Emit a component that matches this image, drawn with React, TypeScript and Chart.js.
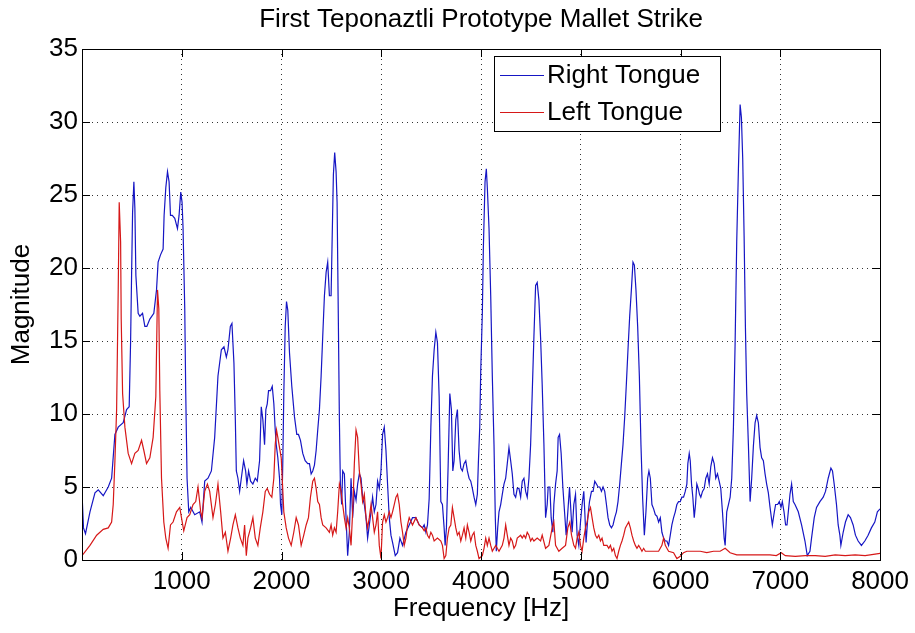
import { useEffect, useRef } from 'react';
import { Chart, registerables } from 'chart.js';

Chart.register(...registerables);

// Spectrum of the right tongue (Hz, magnitude)
const FREQ_RIGHT = [
  0, 15, 35, 80, 130, 163, 213, 263, 297, 330, 363, 413, 447, 473, 487, 497, 507, 520, 530, 540,
  563, 580, 607, 630, 650, 680, 720, 747, 763, 787, 813, 823, 840, 857, 873, 887, 905, 930, 957, 973,
  990, 1003, 1013, 1030, 1040, 1053, 1070, 1090, 1130, 1180, 1203, 1230, 1263, 1297, 1330, 1363, 1397, 1423, 1447, 1463,
  1487, 1503, 1523, 1537, 1547, 1563, 1580, 1597, 1620, 1640, 1653, 1670, 1690, 1713, 1737, 1757, 1780, 1797, 1813, 1830,
  1843, 1857, 1870, 1890, 1907, 1923, 1937, 1947, 1963, 1980, 1990, 2003, 2013, 2023, 2037, 2050, 2063, 2080, 2103, 2130,
  2153, 2170, 2190, 2213, 2237, 2263, 2280, 2297, 2313, 2330, 2347, 2363, 2380, 2397, 2413, 2430, 2447, 2463, 2480, 2497,
  2507, 2520, 2533, 2547, 2557, 2567, 2580, 2590, 2603, 2613, 2630, 2647, 2663, 2680, 2697, 2713, 2730, 2747, 2763, 2780,
  2797, 2813, 2830, 2847, 2863, 2880, 2897, 2913, 2930, 2947, 2963, 2980, 2997, 3013, 3030, 3047, 3063, 3080, 3097, 3113,
  3140, 3163, 3187, 3213, 3247, 3280, 3313, 3347, 3380, 3413, 3430, 3447, 3463, 3480, 3497, 3513, 3530, 3547, 3563, 3580,
  3597, 3613, 3630, 3640, 3653, 3670, 3687, 3703, 3717, 3730, 3747, 3763, 3780, 3797, 3813, 3830, 3847, 3863, 3880, 3897,
  3913, 3930, 3947, 3963, 3973, 3987, 3997, 4013, 4023, 4040, 4053, 4063, 4080, 4097, 4113, 4130, 4143, 4153, 4167, 4180,
  4197, 4213, 4230, 4247, 4263, 4280, 4297, 4313, 4330, 4347, 4363, 4380, 4397, 4413, 4430, 4447, 4463, 4480, 4497, 4513,
  4530, 4547, 4563, 4580, 4597, 4613, 4630, 4647, 4663, 4673, 4690, 4703, 4720, 4730, 4747, 4763, 4773, 4787, 4803, 4820,
  4837, 4853, 4870, 4887, 4897, 4913, 4930, 4947, 4963, 4980, 4997, 5013, 5030, 5040, 5053, 5070, 5087, 5107, 5123, 5140,
  5157, 5173, 5190, 5207, 5223, 5240, 5257, 5273, 5290, 5307, 5323, 5340, 5357, 5373, 5390, 5407, 5423, 5440, 5457, 5473,
  5490, 5507, 5523, 5537, 5553, 5570, 5587, 5603, 5620, 5637, 5653, 5670, 5683, 5697, 5713, 5730, 5747, 5763, 5780, 5797,
  5813, 5830, 5847, 5863, 5880, 5897, 5913, 5930, 5947, 5963, 5980, 5997, 6013, 6030, 6047, 6063, 6073, 6087, 6097, 6110,
  6123, 6137, 6150, 6163, 6177, 6190, 6203, 6220, 6237, 6253, 6270, 6287, 6303, 6320, 6337, 6353, 6370, 6387, 6403, 6420,
  6437, 6447, 6463, 6480, 6497, 6513, 6530, 6547, 6563, 6580, 6597, 6610, 6623, 6637, 6650, 6663, 6680, 6697, 6713, 6730,
  6747, 6763, 6780, 6797, 6813, 6830, 6847, 6863, 6880, 6897, 6920, 6940, 6953, 6973, 6990, 7007, 7020, 7037, 7053, 7067,
  7080, 7097, 7113, 7130, 7147, 7180, 7213, 7247, 7270, 7297, 7313, 7340, 7363, 7397, 7430, 7453, 7480, 7507, 7523, 7540,
  7563, 7580, 7597, 7607, 7630, 7653, 7680, 7703, 7730, 7753, 7780, 7813, 7847, 7880, 7913, 7947, 7973, 8000,
];
const MAG_RIGHT = [
  4.6, 2.2, 1.8, 3.3, 4.6, 4.8, 4.4, 5.0, 5.6, 8.6, 9.1, 9.4, 10.3, 10.5, 14.9, 19.5, 23.8, 25.9, 24.1, 19.5,
  16.9, 16.7, 16.9, 16.0, 16.0, 16.5, 16.9, 18.5, 20.4, 20.9, 21.3, 23.6, 25.5, 26.6, 25.9, 23.6, 23.6, 23.4, 22.7, 23.6,
  25.2, 24.5, 22.7, 17.2, 11.4, 5.6, 3.3, 3.6, 3.1, 3.3, 2.6, 5.4, 5.6, 6.1, 8.4, 12.6, 14.4, 14.6, 13.9, 14.4,
  16.0, 16.2, 13.5, 9.6, 6.1, 5.6, 4.7, 5.6, 6.8, 6.1, 5.2, 6.1, 5.4, 5.2, 5.6, 5.4, 6.8, 10.5, 9.6, 7.9,
  10.3, 10.7, 11.6, 11.6, 11.9, 10.7, 8.9, 7.9, 7.0, 5.6, 3.8, 3.1, 6.8, 11.4, 16.0, 17.7, 17.1, 14.2, 11.9, 9.8,
  8.6, 8.6, 8.2, 7.3, 6.8, 6.6, 6.6, 5.9, 6.1, 6.5, 7.5, 8.9, 10.3, 12.6, 15.3, 18.1, 19.7, 20.4, 18.1, 18.1,
  21.8, 26.4, 27.9, 26.6, 24.5, 18.1, 9.6, 5.2, 3.8, 6.1, 5.9, 2.9, 0.3, 1.9, 5.6, 2.9, 4.7, 4.1, 5.2, 5.9,
  5.6, 4.3, 3.8, 2.9, 1.5, 2.4, 3.3, 4.3, 3.3, 3.8, 5.4, 4.9, 6.1, 8.6, 9.1, 7.5, 5.2, 2.9, 1.7, 1.2,
  0.3, 0.5, 1.5, 1.0, 1.9, 2.4, 2.9, 2.9, 2.4, 2.2, 2.4, 1.9, 2.4, 4.2, 9.1, 12.6, 14.4, 15.6, 14.9, 11.2,
  4.0, 3.8, 2.2, 1.0, 2.2, 6.4, 11.4, 10.3, 6.1, 6.8, 9.6, 10.3, 7.5, 6.3, 6.1, 6.6, 6.8, 6.1, 5.6, 5.4,
  4.9, 4.3, 3.8, 4.5, 6.6, 9.1, 13.0, 16.9, 21.3, 25.9, 26.8, 25.5, 22.7, 18.1, 12.6, 7.9, 2.9, 0.6, 2.2, 3.3,
  3.8, 4.5, 5.2, 5.6, 6.6, 7.7, 6.8, 5.9, 4.5, 4.3, 4.9, 4.9, 4.3, 5.4, 5.6, 4.7, 4.3, 5.6, 7.9, 11.4,
  15.3, 18.8, 19.0, 17.8, 15.2, 12.0, 8.0, 2.9, 3.8, 5.0, 5.0, 2.9, 1.9, 3.8, 5.2, 6.1, 8.4, 8.6, 7.3, 5.0,
  3.3, 1.7, 3.3, 5.0, 3.8, 1.9, 3.8, 4.5, 1.7, 1.0, 2.6, 3.8, 4.7, 3.3, 1.2, 2.9, 4.0, 4.7, 4.7, 5.4,
  5.2, 5.0, 5.0, 4.7, 5.0, 4.7, 3.8, 2.9, 2.4, 2.2, 2.4, 2.9, 3.3, 4.0, 5.2, 6.6, 7.9, 9.8, 12.1, 14.4,
  16.7, 18.5, 20.4, 20.2, 18.5, 16.0, 12.6, 7.9, 4.2, 1.7, 3.3, 5.6, 6.1, 5.6, 3.8, 3.5, 3.1, 3.0, 2.6, 2.9,
  1.9, 1.5, 1.3, 1.3, 1.0, 1.7, 2.4, 2.9, 3.3, 3.8, 4.0, 4.0, 4.3, 4.3, 4.7, 5.2, 6.6, 7.3, 6.8, 5.2,
  4.3, 2.9, 3.8, 5.2, 4.9, 4.5, 4.3, 4.7, 4.9, 5.6, 5.9, 5.2, 6.4, 7.0, 6.6, 5.6, 5.9, 5.4, 4.9, 3.3,
  1.5, 1.0, 3.3, 3.8, 4.3, 5.6, 9.1, 14.9, 21.8, 26.8, 31.2, 30.3, 27.5, 22.2, 16.0, 11.4, 7.9, 4.0, 5.6, 7.8,
  9.4, 9.9, 9.4, 7.7, 7.0, 6.8, 5.9, 5.2, 4.6, 3.6, 2.4, 3.3, 3.8, 3.8, 4.0, 3.6, 4.0, 3.3, 2.4, 2.4,
  3.3, 4.5, 5.2, 4.0, 3.8, 3.3, 2.4, 1.3, 0.3, 0.6, 1.5, 2.9, 3.6, 4.0, 4.3, 4.7, 5.6, 6.3, 6.1, 5.2,
  3.8, 2.4, 1.7, 1.0, 1.9, 2.6, 3.1, 2.9, 2.4, 1.7, 1.3, 1.0, 1.3, 1.7, 2.2, 2.6, 3.3, 3.5,
];

// Spectrum of the left tongue (Hz, magnitude)
const FREQ_LEFT = [
  0, 80, 147, 213, 263, 297, 313, 330, 347, 363, 373, 387, 393, 407, 430, 463, 497, 530, 563, 597,
  620, 647, 680, 713, 740, 757, 770, 780, 797, 820, 840, 863, 887, 913, 947, 980, 997, 1020, 1053, 1080,
  1113, 1140, 1163, 1190, 1203, 1230, 1257, 1280, 1313, 1337, 1363, 1390, 1413, 1437, 1463, 1490, 1513, 1537, 1563, 1587,
  1613, 1630, 1647, 1663, 1690, 1713, 1737, 1763, 1787, 1813, 1837, 1857, 1880, 1903, 1923, 1937, 1950, 1963, 1980, 1997,
  2007, 2023, 2047, 2070, 2097, 2123, 2147, 2170, 2197, 2223, 2247, 2270, 2290, 2313, 2330, 2347, 2363, 2380, 2397, 2413,
  2447, 2480, 2497, 2513, 2530, 2547, 2563, 2580, 2597, 2613, 2630, 2647, 2663, 2680, 2697, 2713, 2730, 2747, 2763, 2780,
  2797, 2813, 2830, 2847, 2863, 2880, 2897, 2913, 2930, 2947, 2963, 2980, 2997, 3013, 3030, 3047, 3063, 3080, 3097, 3113,
  3130, 3147, 3163, 3180, 3197, 3213, 3230, 3247, 3263, 3280, 3313, 3347, 3380, 3413, 3430, 3447, 3463, 3480, 3497, 3513,
  3530, 3563, 3597, 3613, 3630, 3647, 3663, 3680, 3697, 3713, 3730, 3747, 3763, 3780, 3797, 3813, 3830, 3847, 3863, 3880,
  3897, 3913, 3930, 3947, 3963, 3980, 4013, 4030, 4047, 4063, 4080, 4097, 4113, 4147, 4163, 4180, 4213, 4230, 4247, 4263,
  4280, 4297, 4313, 4330, 4347, 4363, 4397, 4413, 4430, 4447, 4463, 4480, 4497, 4513, 4530, 4563, 4597, 4613, 4647, 4680,
  4713, 4730, 4747, 4780, 4813, 4847, 4870, 4890, 4907, 4930, 4947, 4963, 4980, 4997, 5013, 5030, 5047, 5063, 5080, 5097,
  5113, 5130, 5147, 5163, 5180, 5197, 5213, 5230, 5263, 5280, 5297, 5313, 5330, 5347, 5363, 5380, 5397, 5413, 5430, 5447,
  5463, 5480, 5497, 5513, 5530, 5547, 5563, 5580, 5597, 5613, 5630, 5647, 5680, 5713, 5747, 5780, 5813, 5830, 5847, 5880,
  5930, 5963, 5997, 6030, 6063, 6130, 6197, 6263, 6330, 6397, 6447, 6497, 6563, 6630, 6697, 6763, 6830, 6897, 6960, 7010,
  7050, 7150, 7250, 7350, 7450, 7550, 7650, 7750, 7850, 7950, 8000,
];
const MAG_LEFT = [
  0.3, 1.0, 1.7, 2.1, 2.2, 2.6, 3.8, 6.8, 10.3, 18.5, 24.5, 21.8, 16.5, 11.4, 9.1, 7.3, 6.6, 7.3, 7.5, 8.2,
  7.5, 6.6, 7.0, 8.4, 11.2, 18.5, 17.2, 11.6, 5.6, 2.6, 1.5, 0.8, 2.4, 2.6, 3.3, 3.6, 2.9, 2.0, 2.9, 3.1,
  3.8, 4.0, 5.0, 3.3, 2.9, 4.7, 5.2, 4.7, 2.9, 3.8, 5.2, 3.3, 1.5, 1.9, 0.6, 1.5, 2.4, 3.1, 2.2, 1.5,
  1.0, 2.4, 0.3, 1.5, 2.2, 2.9, 1.5, 1.0, 2.2, 3.3, 4.7, 4.9, 4.5, 4.3, 5.6, 7.9, 8.9, 8.4, 7.7, 7.0,
  5.6, 3.3, 2.2, 1.5, 1.0, 1.9, 2.9, 2.4, 1.0, 1.7, 2.4, 2.9, 4.3, 5.4, 5.6, 4.9, 4.0, 3.8, 2.9, 2.4,
  2.2, 1.9, 2.4, 1.7, 2.2, 1.9, 3.3, 5.2, 4.7, 3.8, 2.9, 2.2, 2.9, 2.2, 1.0, 3.3, 6.6, 8.9, 8.4, 6.1,
  5.2, 4.0, 4.5, 2.9, 2.2, 2.9, 3.8, 2.9, 1.9, 2.4, 3.3, 1.0, 0.1, 2.6, 3.1, 2.6, 2.9, 3.3, 2.9, 3.3,
  3.8, 4.3, 4.5, 3.8, 2.6, 1.9, 1.0, 1.5, 2.4, 2.9, 2.4, 2.9, 2.4, 2.2, 2.0, 2.2, 1.7, 1.5, 1.9, 1.7,
  1.3, 1.5, 1.3, 1.0, 0.1, 0.3, 1.5, 2.2, 2.4, 3.6, 2.9, 2.2, 1.7, 1.9, 1.3, 1.7, 2.2, 1.5, 2.4, 1.9,
  1.3, 1.7, 1.9, 1.0, 0.6, 0.1, 0.3, 0.8, 1.5, 1.0, 1.5, 1.0, 0.6, 1.0, 0.8, 0.6, 1.0, 1.5, 2.4, 1.7,
  1.0, 1.5, 1.3, 0.8, 1.0, 1.5, 1.7, 1.5, 1.7, 1.5, 1.9, 1.7, 1.3, 1.5, 1.3, 1.5, 1.3, 1.7, 0.8, 1.0,
  2.2, 2.6, 1.0, 0.6, 0.8, 1.0, 2.2, 2.6, 1.7, 1.0, 0.8, 1.5, 1.9, 1.0, 0.6, 1.5, 2.2, 2.6, 3.3, 3.6,
  2.9, 2.2, 1.7, 1.5, 1.7, 1.3, 1.5, 1.0, 1.0, 0.8, 1.0, 0.6, 0.8, 0.3, 0.1, 0.6, 1.0, 1.3, 1.7, 2.2,
  2.4, 2.6, 2.2, 1.7, 1.3, 1.0, 0.8, 1.0, 0.8, 0.6, 0.8, 0.6, 0.6, 0.6, 0.6, 0.6, 1.0, 1.5, 1.0, 0.6,
  0.5, 0.1, 0.25, 0.5, 0.6, 0.6, 0.6, 0.5, 0.6, 0.6, 0.8, 0.5, 0.35, 0.35, 0.35, 0.35, 0.35, 0.35, 0.3, 0.5,
  0.3, 0.25, 0.3, 0.3, 0.25, 0.35, 0.3, 0.35, 0.3, 0.4, 0.45,
];

const SERIES_NAMES = ['Right Tongue', 'Left Tongue'];
const SERIES_COLORS = ['rgb(22, 22, 196)', 'rgb(214, 24, 24)'];
const TITLE = 'First Teponaztli Prototype Mallet Strike';
const X_LABEL = 'Frequency [Hz]';
const Y_LABEL = 'Magnitude';
const X_RANGE = [0, 8000];
const Y_RANGE = [0, 35];
const X_STEP = 1000;
const Y_STEP = 5;

const FONT_FAMILY = "'Liberation Sans', Arial, Helvetica, sans-serif";
const W = 915;
const H = 633;

// Title centred over the axes box, box outline, inward tick marks on all
// four sides, and the boxed legend in the upper part of the axes.
const framePlugin = {
  id: 'frame',
  afterDatasetsDraw(chart: any) {
    const { ctx, chartArea: a, scales } = chart;
    const xs = scales.x;
    const ys = scales.y;
    const tick = 8;
    ctx.save();

    ctx.fillStyle = '#000';
    ctx.font = `26px ${FONT_FAMILY}`;
    ctx.textAlign = 'center';
    ctx.textBaseline = 'middle';
    ctx.fillText(TITLE, (a.left + a.right) / 2, 20);

    ctx.strokeStyle = '#000';
    ctx.lineWidth = 1;
    ctx.setLineDash([]);
    ctx.beginPath();
    xs.ticks.forEach((t: any) => {
      const px = Math.round(xs.getPixelForValue(t.value)) + 0.5;
      ctx.moveTo(px, a.bottom);
      ctx.lineTo(px, a.bottom - tick);
      ctx.moveTo(px, a.top);
      ctx.lineTo(px, a.top + tick);
    });
    ys.ticks.forEach((t: any) => {
      const py = Math.round(ys.getPixelForValue(t.value)) + 0.5;
      ctx.moveTo(a.left, py);
      ctx.lineTo(a.left + tick, py);
      ctx.moveTo(a.right, py);
      ctx.lineTo(a.right - tick, py);
    });
    ctx.stroke();
    ctx.strokeRect(
      Math.round(a.left) + 0.5,
      Math.round(a.top) + 0.5,
      Math.round(a.right - a.left),
      Math.round(a.bottom - a.top)
    );

    // legend
    const lx = 494;
    const ly = 56;
    const lw = 226;
    const lh = 75;
    ctx.fillStyle = '#fff';
    ctx.fillRect(lx, ly, lw, lh);
    ctx.strokeRect(lx + 0.5, ly + 0.5, lw, lh);
    ctx.font = `26px ${FONT_FAMILY}`;
    ctx.textBaseline = 'middle';
    ctx.textAlign = 'left';
    const rows = [75, 112];
    SERIES_NAMES.forEach((name, i) => {
      const y = rows[i];
      ctx.strokeStyle = SERIES_COLORS[i];
      ctx.lineWidth = 1.2;
      ctx.beginPath();
      ctx.moveTo(500, y + 0.5);
      ctx.lineTo(544, y + 0.5);
      ctx.stroke();
      ctx.fillStyle = '#000';
      ctx.fillText(name, 547, y + 1);
    });
    ctx.restore();
  },
};

export default function App() {
  const canvasRef = useRef<HTMLCanvasElement | null>(null);

  useEffect(() => {
    const canvas = canvasRef.current;
    if (!canvas) return;
    const toPoints = (fs: number[], ms: number[]) => fs.map((f, i) => ({ x: f, y: ms[i] }));
    const chart = new Chart(canvas, {
      type: 'line',
      data: {
        datasets: [
          {
            label: SERIES_NAMES[0],
            data: toPoints(FREQ_RIGHT, MAG_RIGHT),
            borderColor: SERIES_COLORS[0],
            borderWidth: 1.2,
            pointRadius: 0,
            tension: 0,
            fill: false,
            order: 1,
          },
          {
            label: SERIES_NAMES[1],
            data: toPoints(FREQ_LEFT, MAG_LEFT),
            borderColor: SERIES_COLORS[1],
            borderWidth: 1.2,
            pointRadius: 0,
            tension: 0,
            fill: false,
            order: 0,
          },
        ],
      },
      options: {
        responsive: false,
        animation: false,
        events: [],
        layout: { padding: { left: 0, right: 32, top: 49, bottom: 0 } },
        plugins: {
          legend: { display: false },
          tooltip: { enabled: false },
          title: { display: false },
        },
        scales: {
          x: {
            type: 'linear',
            min: X_RANGE[0],
            max: X_RANGE[1],
            afterFit: (s: any) => {
              s.height = 73;
            },
            ticks: {
              stepSize: X_STEP,
              maxRotation: 0,
              autoSkip: false,
              padding: 6,
              color: '#000',
              font: { family: FONT_FAMILY, size: 26 },
              callback: (v: any) => (v === 0 ? '' : String(v)),
            },
            grid: { color: 'rgba(0,0,0,0.8)', lineWidth: 1, drawTicks: false },
            border: { display: false, dash: [1, 4] },
            title: {
              display: true,
              text: X_LABEL,
              color: '#000',
              font: { family: FONT_FAMILY, size: 26 },
              padding: { top: 0, bottom: 9 },
            },
          },
          y: {
            type: 'linear',
            min: Y_RANGE[0],
            max: Y_RANGE[1],
            afterFit: (s: any) => {
              s.width = 82;
            },
            ticks: {
              stepSize: Y_STEP,
              padding: 4,
              color: '#000',
              font: { family: FONT_FAMILY, size: 26 },
              callback: (v: any) => String(v),
            },
            grid: { color: 'rgba(0,0,0,0.8)', lineWidth: 1, drawTicks: false },
            border: { display: false, dash: [1, 4] },
            title: {
              display: true,
              text: Y_LABEL,
              color: '#000',
              font: { family: FONT_FAMILY, size: 26 },
              padding: { top: 6, bottom: 0 },
            },
          },
        },
      },
      plugins: [framePlugin],
    } as any);
    return () => chart.destroy();
  }, []);

  return (
    <div style={{ position: 'fixed', left: 0, top: 0, width: W, height: H, background: '#fff' }}>
      <canvas ref={canvasRef} width={W} height={H} style={{ display: 'block' }} />
    </div>
  );
}
